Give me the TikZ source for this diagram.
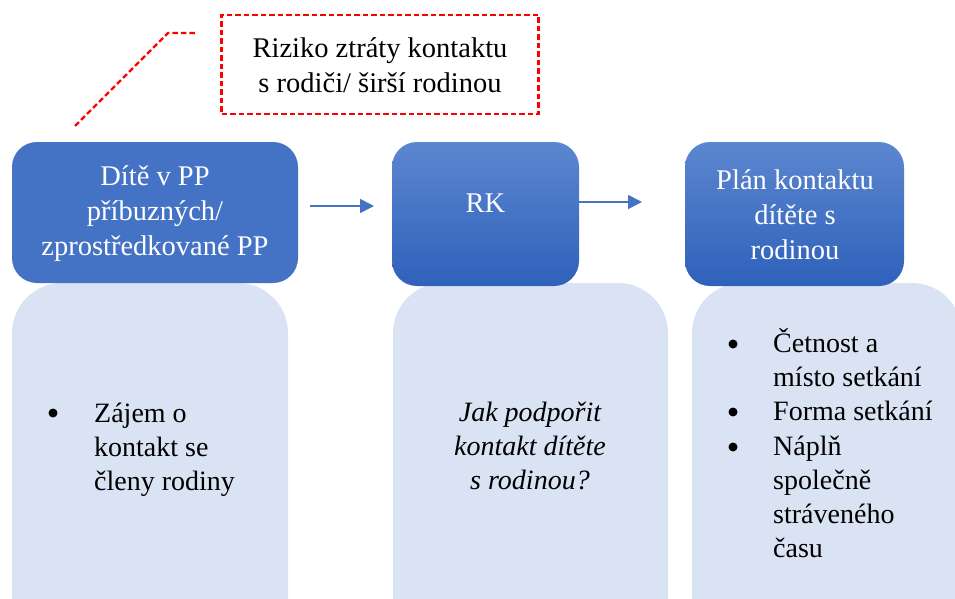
\documentclass[tikz,border=0pt]{standalone}
\usepackage{fontspec}
\setmainfont{Liberation Serif}
\usetikzlibrary{arrows.meta}
\definecolor{boxblue}{HTML}{4472C4}
\definecolor{gradtop}{HTML}{5C86CF}
\definecolor{gradbot}{HTML}{2F61BB}
\definecolor{lightfill}{HTML}{DAE3F3}
\definecolor{riskred}{HTML}{FF0000}
\begin{document}
\begin{tikzpicture}[x=1pt,y=-1pt,
  txt/.style={font=\fontsize{28.5}{35}\selectfont, inner sep=0pt},
  bluebox/.style={rounded corners=25pt, inner sep=0pt, draw=none},
  gradbox/.style={bluebox, top color=gradtop, bottom color=gradbot},
  lightbox/.style={rounded corners=50pt, fill=lightfill, draw=none, inner sep=0pt},
  flowarrow/.style={draw=boxblue, line width=1.6pt, -{Triangle[length=14pt,width=14pt]}},
  riskline/.style={draw=riskred, line width=2.2pt, dash pattern=on 5.5pt off 3pt},
  bulletmark/.style={circle, fill=black, inner sep=0pt, minimum size=9pt},
  listline/.style={font=\fontsize{28}{35}\selectfont, inner sep=0pt, anchor=base west},
]
\useasboundingbox (0,0) rectangle (955,599);
\clip (0,0) rectangle (955,599);

% light boxes
\node[lightbox, minimum width=276pt, minimum height=367pt] (light1) at (150,466.5) {};
\node[lightbox, minimum width=275pt, minimum height=367pt] (light2) at (530.5,466.5) {};
\node[lightbox, minimum width=270pt, minimum height=367pt] (light3) at (827,466.5) {};

% blue boxes
\node[bluebox, fill=boxblue, minimum width=286pt, minimum height=141pt] (blue1) at (155,212.5) {};
\node[gradbox, minimum width=187pt, minimum height=144pt] (blue2) at (485.5,214) {};
\node[gradbox, minimum width=219pt, minimum height=144pt] (blue3) at (794.5,214) {};

\node[txt, text=white, align=center] (t1) at (155,214) {Dítě v PP\\příbuzných/\\zprostředkované PP};
\node[txt, text=white] (t2) at (485.5,203) {RK};
\node[txt, text=white, align=center] (t3) at (795,215) {Plán kontaktu\\dítěte s\\rodinou};

% arrows
\coordinate (a1s) at (310,206);
\coordinate (a1e) at (374,206);
\coordinate (a2s) at (579,202);
\coordinate (a2e) at (642,202);
\draw[flowarrow] (a1s) -- (a1e);
\draw[flowarrow] (a2s) -- (a2e);

% risk callout
\node[riskline, draw, minimum width=317pt, minimum height=99pt, inner sep=0pt] (risk) at (380,64.5) {};
\node[txt, align=center] (risktext) at (380,65) {Riziko ztráty kontaktu\\s rodiči/ širší rodinou};
\coordinate (c1) at (75,126);
\coordinate (c2) at (168,33);
\coordinate (c3) at (197,33);
\draw[riskline] (c1) -- (c2) -- (c3);

% list in box 1
\node[bulletmark] (b11) at (53,413) {};
\node[listline] (l11) at (94,422) {Zájem o};
\node[listline] (l12) at (94,456) {kontakt se};
\node[listline] (l13) at (94,490) {členy rodiny};

% box 2 question
\node[txt, align=center, font=\itshape\fontsize{28}{34}\selectfont] (q2) at (530,446) {Jak podpořit\\kontakt dítěte\\s rodinou?};

% list in box 3
\node[bulletmark] (b31) at (733,344) {};
\node[listline] (l31) at (773,352) {Četnost a};
\node[listline] (l32) at (773,386) {místo setkání};
\node[bulletmark] (b32) at (733,412) {};
\node[listline] (l33) at (773,420) {Forma setkání};
\node[bulletmark] (b33) at (733,447) {};
\node[listline] (l34) at (773,455) {Náplň};
\node[listline] (l35) at (773,489) {společně};
\node[listline] (l36) at (773,523) {stráveného};
\node[listline] (l37) at (773,557) {času};
\end{tikzpicture}
\end{document}
